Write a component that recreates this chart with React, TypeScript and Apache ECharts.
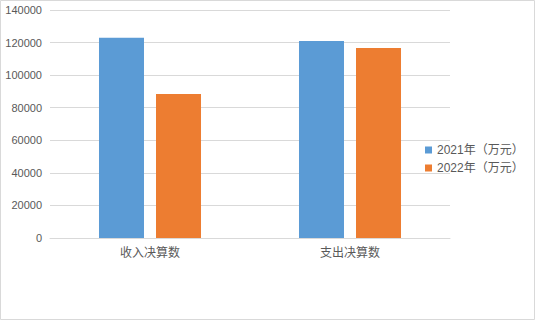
import React, { useEffect, useRef } from "react";
import * as echarts from "echarts";

const categories = ["收入决算数", "支出决算数"];
const seriesNames = ["2021年（万元）", "2022年（万元）"];
const values2021 = [123000, 121000];
const values2022 = [88400, 116700];
const colors = ["#5b9bd5", "#ed7d31"];

const FONT = "'Liberation Sans', 'Noto Sans CJK SC', sans-serif";

export default function App() {
  const ref = useRef<HTMLDivElement>(null);
  useEffect(() => {
    document.body.style.margin = "0";
    const chart = echarts.init(ref.current!, undefined, { renderer: "svg" });
    chart.setOption({
      animation: false,
      backgroundColor: "#ffffff",
      textStyle: { fontFamily: FONT },
      graphic: [
        {
          type: "rect",
          shape: { x: 0.5, y: 0.5, width: 534, height: 319 },
          style: { fill: "none", stroke: "#d9d9d9", lineWidth: 1 },
          silent: true,
        },
      ],
      legend: {
        orient: "vertical",
        left: 420,
        top: 139,
        itemWidth: 7,
        itemHeight: 7,
        itemGap: 6,
        icon: "rect",
        textStyle: { fontSize: 12, color: "#595959", fontFamily: FONT },
        data: seriesNames,
      },
      grid: { left: 50, right: 85, top: 10, bottom: 82 },
      xAxis: {
        type: "category",
        data: categories,
        axisLine: { lineStyle: { color: "#d9d9d9" } },
        axisTick: { show: false },
        axisLabel: { color: "#595959", fontSize: 12, margin: 9 },
      },
      yAxis: {
        type: "value",
        min: 0,
        max: 140000,
        interval: 20000,
        axisLine: { show: false },
        axisTick: { show: false },
        splitLine: { lineStyle: { color: "#d9d9d9" } },
        axisLabel: {
          color: "#595959",
          fontSize: 11,
          margin: 8,
          formatter: (v: number) => String(v),
        },
      },
      series: [
        {
          name: seriesNames[0],
          type: "bar",
          data: values2021,
          barWidth: 45,
          barGap: "26.7%",
          itemStyle: { color: colors[0] },
        },
        {
          name: seriesNames[1],
          type: "bar",
          data: values2022,
          barWidth: 45,
          itemStyle: { color: colors[1] },
        },
      ],
    });
    return () => chart.dispose();
  }, []);
  return <div ref={ref} style={{ width: 535, height: 320 }} />;
}
